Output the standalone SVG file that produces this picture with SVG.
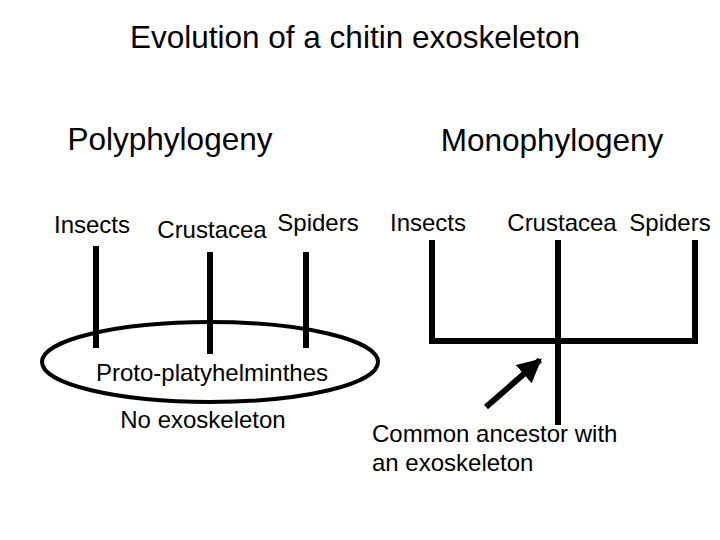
<svg xmlns="http://www.w3.org/2000/svg" width="720" height="540" viewBox="0 0 720 540">
<defs>
<marker id="ah" viewBox="0 0 10 10" refX="9" refY="5" markerWidth="4" markerHeight="4" orient="auto" markerUnits="strokeWidth">
<path d="M0,0 L10,5 L0,10 z" fill="#000"/>
</marker>
</defs>
<style>
text{font-family:"Liberation Sans",Arial,sans-serif;fill:#000}
.t{font-size:31.5px}
.h{font-size:31.5px}
.l{font-size:24px}
.b{stroke:#000;stroke-width:6;fill:none}
</style>
<rect width="720" height="540" fill="#fff"/>
<g id="title"><text class="t" x="355" y="48" text-anchor="middle">Evolution of a chitin exoskeleton</text></g>
<g id="poly-heading"><text class="h" x="170" y="150" text-anchor="middle">Polyphylogeny</text></g>
<g id="mono-heading"><text class="h" x="552" y="151" text-anchor="middle">Monophylogeny</text></g>
<g id="poly-insects"><text class="l" x="92" y="233" text-anchor="middle">Insects</text></g>
<g id="poly-crustacea"><text class="l" x="212" y="238" text-anchor="middle">Crustacea</text></g>
<g id="poly-spiders"><text class="l" x="318" y="231" text-anchor="middle">Spiders</text></g>
<g id="mono-insects"><text class="l" x="428" y="231" text-anchor="middle">Insects</text></g>
<g id="mono-crustacea"><text class="l" x="562" y="231" text-anchor="middle">Crustacea</text></g>
<g id="mono-spiders"><text class="l" x="670" y="231" text-anchor="middle">Spiders</text></g>
<g id="proto">
<ellipse cx="210" cy="362" rx="168" ry="40" fill="none" stroke="#000" stroke-width="4"/>
<text class="l" x="212" y="381" text-anchor="middle">Proto-platyhelminthes</text>
</g>
<g id="no-exo"><text class="l" x="203" y="428" text-anchor="middle">No exoskeleton</text></g>
<g id="ancestor">
<text class="l" x="372" y="442">Common ancestor with</text>
<text class="l" x="372" y="471">an exoskeleton</text>
</g>
<g id="connectors">
<line class="b" x1="96" y1="246" x2="96" y2="348"/>
<line class="b" x1="210" y1="252" x2="210" y2="354"/>
<line class="b" x1="306" y1="252" x2="306" y2="348"/>
<path class="b" d="M432,240 V341 H695 V240"/>
<line class="b" x1="558" y1="240" x2="558" y2="425"/>
<line class="b" x1="486" y1="407" x2="540" y2="360" marker-end="url(#ah)"/>
</g>
</svg>
